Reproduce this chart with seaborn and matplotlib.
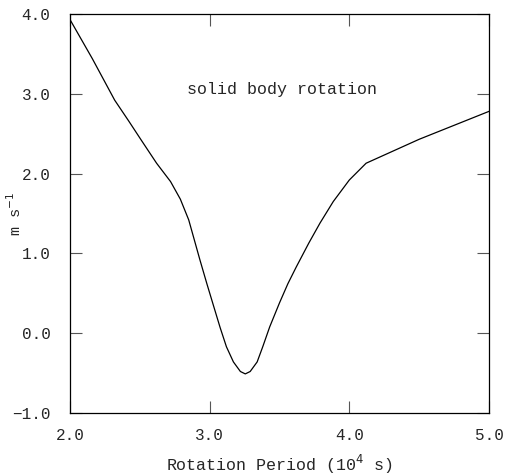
import numpy as np
import pandas as pd
import matplotlib
matplotlib.use("Agg")
import matplotlib.pyplot as plt
import seaborn as sns

# rotation period (10^4 s) and value
period = [2.00, 2.16, 2.32, 2.42, 2.51, 2.62, 2.72, 2.79, 2.85, 2.93, 2.98,
          3.03, 3.075, 3.12, 3.17, 3.22, 3.255, 3.29, 3.34, 3.38, 3.43, 3.50,
          3.56, 3.62, 3.71, 3.79, 3.885, 4.00, 4.12, 4.50, 5.00]
value = [3.93, 3.44, 2.92, 2.66, 2.42, 2.13, 1.90, 1.68, 1.42, 0.92, 0.62,
         0.33, 0.07, -0.17, -0.36, -0.48, -0.51, -0.48, -0.36, -0.17, 0.08,
         0.38, 0.62, 0.83, 1.13, 1.38, 1.65, 1.92, 2.13, 2.43, 2.78]

xticks = [2.0, 3.0, 4.0, 5.0]
yticks = [-1.0, 0.0, 1.0, 2.0, 3.0, 4.0]

sns.set_style("ticks")
plt.rcParams["font.family"] = ["Liberation Mono", "DejaVu Sans Mono"]

df = pd.DataFrame({"period": period, "value": value})

fig = plt.figure(figsize=(5.19, 4.76), dpi=100)
ax = fig.add_axes([70 / 519, 63 / 476, 419 / 519, 399 / 476])

sns.lineplot(data=df, x="period", y="value", color="black", lw=0.9,
             sort=False, ax=ax)

ax.set_xlim(2.0, 5.0)
ax.set_ylim(-1.0, 4.0)
ax.set_xticks(xticks)
ax.set_yticks(yticks)
ax.set_xticklabels([f"{t:.1f}" for t in xticks])
ax.set_yticklabels([f"{t:.1f}".replace("-", "\u2212") for t in yticks])

ax.tick_params(axis="both", direction="in", top=True, right=True,
               length=8.5, width=0.8, color="#555555", labelsize=11.5)
ax.tick_params(axis="y", pad=14)
ax.tick_params(axis="x", pad=11)
for s in ax.spines.values():
    s.set_linewidth(0.9)
    s.set_color("black")

ax.set_xlabel("Rotation Period (10$^4$ s)", fontsize=12, labelpad=7)
ax.set_ylabel("m s$^{-1}$", fontsize=11)
ax.yaxis.set_label_coords(-0.11, 0.5)

ax.text(3.52, 3.05, "solid body rotation", ha="center", va="center",
        fontsize=12)

fig.savefig("out.png", dpi=100)
